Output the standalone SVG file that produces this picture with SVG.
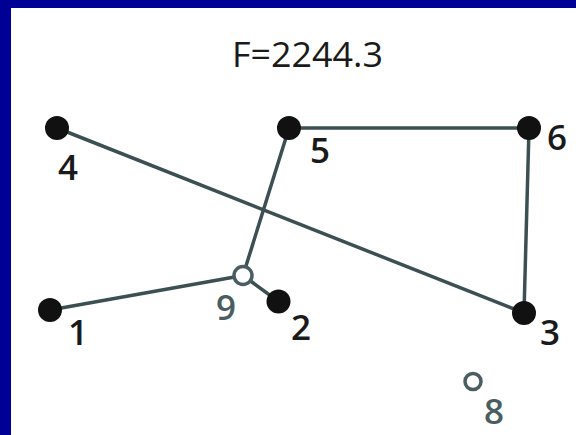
<svg xmlns="http://www.w3.org/2000/svg" width="576" height="435" viewBox="0 0 576 435">
  <style>
    .edge { stroke: #3c4f53; stroke-width: 3.5; fill: none; stroke-linecap: round; }
    .solid { fill: #111111; }
    .hollow { fill: #ffffff; stroke: #4a5d61; stroke-width: 3.5; }
    .lbl { font-family: "Open Sans", "Liberation Sans", Arial, sans-serif; font-weight: 600; font-size: 35px; fill: #1a1a1a; text-anchor: middle; }
    .lbl.dim { fill: #4a5d61; }
    .title { font-family: "Open Sans", "Liberation Sans", Arial, sans-serif; font-weight: 500; font-size: 34px; fill: #1a1a1a; text-anchor: middle; }
  </style>

  <!-- frame and drawing panel -->
  <rect x="0" y="0" width="576" height="435" fill="#000096"/>
  <rect x="11" y="8" width="565" height="427" fill="#ffffff"/>

  <text class="title" x="307.5" y="67" textLength="151" lengthAdjust="spacingAndGlyphs">F=2244.3</text>

  <g id="connectors">
    <line class="edge" x1="57" y1="128" x2="524" y2="313"/>
    <line class="edge" x1="289" y1="128" x2="529" y2="128"/>
    <line class="edge" x1="529" y1="128" x2="524" y2="313"/>
    <line class="edge" x1="289" y1="128" x2="243" y2="275.5"/>
    <line class="edge" x1="50" y1="310" x2="243" y2="275.5"/>
    <line class="edge" x1="243" y1="275.5" x2="278.5" y2="301.5"/>
  </g>

  <g id="node-1">
    <circle class="solid" cx="50" cy="310" r="12"/>
    <text class="lbl" x="78" y="345">1</text>
  </g>
  <g id="node-2">
    <circle class="solid" cx="278.5" cy="301.5" r="12"/>
    <text class="lbl" x="301" y="340">2</text>
  </g>
  <g id="node-3">
    <circle class="solid" cx="524" cy="313" r="12"/>
    <text class="lbl" x="550" y="345">3</text>
  </g>
  <g id="node-4">
    <circle class="solid" cx="57" cy="128" r="12"/>
    <text class="lbl" x="68" y="180">4</text>
  </g>
  <g id="node-5">
    <circle class="solid" cx="289" cy="128" r="12"/>
    <text class="lbl" x="320" y="163">5</text>
  </g>
  <g id="node-6">
    <circle class="solid" cx="529" cy="128" r="12"/>
    <text class="lbl" x="557" y="150">6</text>
  </g>
  <g id="node-8">
    <circle class="hollow" cx="473" cy="381.5" r="8"/>
    <text class="lbl dim" x="494" y="424">8</text>
  </g>
  <g id="node-9">
    <circle class="hollow" cx="243" cy="275.5" r="9"/>
    <text class="lbl dim" x="226" y="320">9</text>
  </g>
</svg>
